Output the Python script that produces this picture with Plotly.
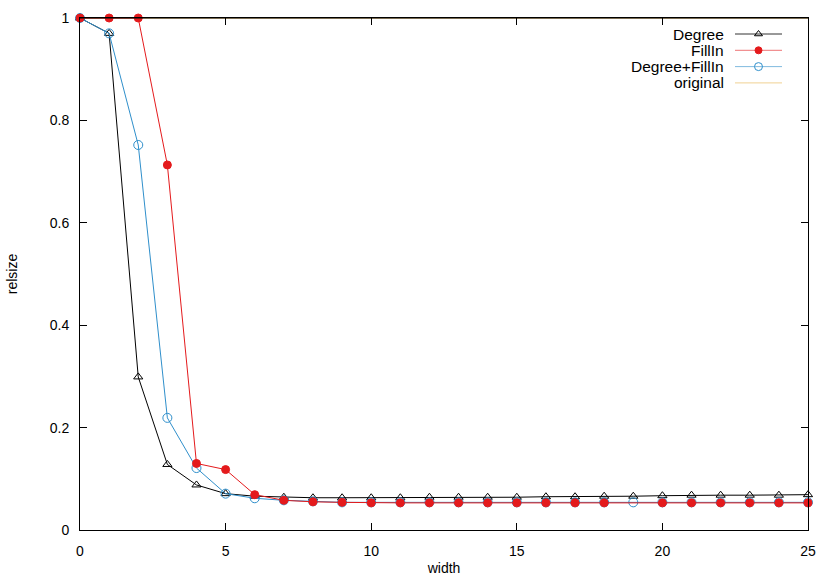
import plotly.graph_objects as go

width = list(range(26))

degree = [1.0, 0.97, 0.299, 0.128, 0.088, 0.071, 0.066, 0.064, 0.063, 0.063,
          0.063, 0.063, 0.064, 0.064, 0.064, 0.064, 0.065, 0.065, 0.066, 0.066,
          0.067, 0.068, 0.068, 0.068, 0.068, 0.069]
fillin = [1.0, 1.0, 1.0, 0.713, 0.130, 0.118, 0.069, 0.058, 0.055, 0.054,
          0.053, 0.053, 0.053, 0.053, 0.053, 0.053, 0.053, 0.053, 0.053, None,
          0.053, 0.053, 0.053, 0.053, 0.053, 0.053]
degree_fillin = [1.0, 0.97, 0.752, 0.219, 0.121, 0.071, 0.062, 0.058, 0.056, 0.054,
                 0.054, 0.054, 0.054, 0.054, 0.054, 0.054, 0.054, 0.054, 0.054, 0.054,
                 0.054, 0.054, 0.054, 0.054, 0.054, 0.054]
original = [1.0] * 26

series_names = ["Degree", "FillIn", "Degree+FillIn", "original"]

FONT = "Liberation Sans, Arial, sans-serif"
BLACK = "#000000"
RED = "#e41a1c"
BLUE = "#2f8fcb"
ORANGE = "#e9b44c"

styles = {
    "Degree": dict(color=BLACK, symbol="triangle-up-open", size=8, mode="lines+markers"),
    "FillIn": dict(color=RED, symbol="circle", size=8, mode="lines+markers"),
    "Degree+FillIn": dict(color=BLUE, symbol="circle-open", size=9, mode="lines+markers"),
    "original": dict(color=ORANGE, symbol="circle", size=1, mode="lines"),
}

fig = go.Figure()

# original sits under the top frame line
for name, ys in [("original", original), ("Degree", degree),
                 ("Degree+FillIn", degree_fillin), ("FillIn", fillin)]:
    s = styles[name]
    fig.add_trace(go.Scatter(
        x=width, y=ys, mode=s["mode"], name=name, connectgaps=True,
        line=dict(color=s["color"], width=1),
        marker=dict(symbol=s["symbol"], size=s["size"], color=s["color"],
                    line=dict(color=s["color"], width=1)),
        showlegend=False, cliponaxis=(name == "original"),
    ))

# top frame drawn over the original line, like gnuplot's border
fig.add_shape(type="line", xref="paper", yref="paper", x0=0, x1=1, y0=1, y1=1,
              line=dict(color=BLACK, width=1), layer="above")

# gnuplot-style key: text right-aligned, sample to its right (pixel axes)
for i, name in enumerate(series_names):
    s = styles[name]
    yy = 34 + i * 16.3
    fig.add_trace(go.Scatter(
        x=[735, 782], y=[yy, yy], mode="lines", xaxis="x2", yaxis="y2",
        line=dict(color=s["color"], width=1), opacity=0.6 if name != "Degree" else 0.8,
        showlegend=False, hoverinfo="skip",
    ))
    if s["mode"] != "lines":
        fig.add_trace(go.Scatter(
            x=[758.5], y=[yy], mode="markers", xaxis="x2", yaxis="y2",
            marker=dict(symbol=s["symbol"], size=s["size"] - 1, color=s["color"],
                        line=dict(color=s["color"], width=1)),
            showlegend=False, hoverinfo="skip",
        ))
    fig.add_annotation(
        x=726, y=yy, xref="x2", yref="y2", text=name, showarrow=False,
        xanchor="right", yanchor="middle", font=dict(family=FONT, size=15.5, color=BLACK),
    )

axis_common = dict(
    showline=True, linecolor=BLACK, linewidth=1, mirror="allticks",
    ticks="inside", ticklen=7, tickcolor=BLACK, showgrid=False, zeroline=False,
    tickfont=dict(family=FONT, size=14, color=BLACK), automargin=False,
)

fig.update_layout(
    width=830, height=581,
    margin=dict(l=80, r=22, t=18, b=51),
    plot_bgcolor="#ffffff", paper_bgcolor="#ffffff",
    font=dict(family=FONT, size=14, color=BLACK),
    xaxis=dict(range=[0, 25], tickvals=[0, 5, 10, 15, 20, 25],
               title=dict(text="width", standoff=5, font=dict(size=14)),
               ticklabelstandoff=8, **axis_common),
    yaxis=dict(range=[0, 1], tickvals=[0, 0.2, 0.4, 0.6, 0.8, 1],
               ticktext=["0", "0.2", "0.4", "0.6", "0.8", "1"],
               title=dict(text="relsize", standoff=28, font=dict(size=14)),
               ticklabelstandoff=7, **axis_common),
    xaxis2=dict(range=[80, 808], overlaying="x", visible=False, fixedrange=True),
    yaxis2=dict(range=[530, 18], overlaying="y", visible=False, fixedrange=True),
)

fig.write_html("out.html", config={"displayModeBar": False},
               post_script="document.body.style.margin='0';")
